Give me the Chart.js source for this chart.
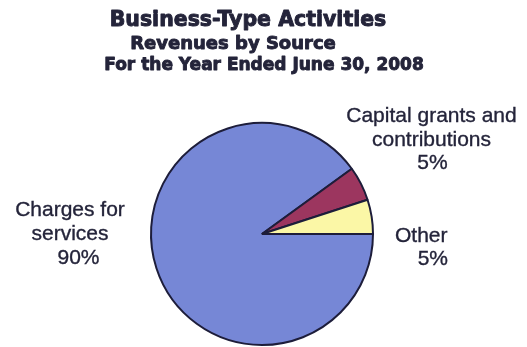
<!DOCTYPE html>
<html>
<head>
<meta charset="utf-8">
<title>Business-Type Activities - Revenues by Source</title>
<script src="https://cdn.jsdelivr.net/npm/chart.js@4/dist/chart.umd.min.js"></script>
<style>
  html, body { margin: 0; padding: 0; background: #ffffff; }
  #wrap { width: 527px; height: 347px; }
</style>
</head>
<body>
<div id="wrap"><canvas id="pie" width="527" height="347"></canvas></div>
<script>
// Revenue sources and their shares (percent of total)
const categories = ["Charges for services", "Capital grants and contributions", "Other"];
const labelLines = [["Charges for", "services"], ["Capital grants and", "contributions"], ["Other"]];
const shares = [90, 5, 5];
const sliceColors = ["#7687d6", "#9c365f", "#fbf7a6"];
const titleLines = ["Business-Type Activities", "Revenues by Source", "For the Year Ended June 30, 2008"];

const textColor = "#24243a";

// Titles drawn centred above the pie (heavy weight)
const titlePlugin = {
  id: "titleBlock",
  afterDraw(chart) {
    const ctx = chart.ctx;
    const specs = [
      { font: "bold 20.5px 'DejaVu Sans'", x: 248, y: 26 },
      { font: "bold 18px 'DejaVu Sans'", x: 233, y: 48.5 },
      { font: "bold 17px 'DejaVu Sans'", x: 264, y: 69.5 }
    ];
    ctx.save();
    ctx.fillStyle = textColor;
    ctx.strokeStyle = textColor;
    ctx.lineWidth = 0.9;
    ctx.lineJoin = "round";
    ctx.textAlign = "center";
    ctx.textBaseline = "alphabetic";
    titleLines.forEach((t, i) => {
      ctx.font = specs[i].font;
      ctx.fillText(t, specs[i].x, specs[i].y);
      ctx.strokeText(t, specs[i].x, specs[i].y);
    });
    ctx.restore();
  }
};

// Category name + percentage placed outside each slice, relative to the pie centre
const sliceLabelPlugin = {
  id: "sliceLabels",
  afterDraw(chart) {
    const ctx = chart.ctx;
    const meta = chart.getDatasetMeta(0);
    const total = shares.reduce((a, b) => a + b, 0);
    const layout = [
      { align: "center", nameDx: -192, pctDx: -183.5, dy: [-18, 6, 30] },
      { align: "center", nameDx: 169.5, pctDx: 170.5, dy: [-112, -88.5, -65] },
      { align: "right", nameDx: 185.5, pctDx: 186, dy: [7.7, 31] }
    ];
    ctx.save();
    ctx.fillStyle = textColor;
    ctx.strokeStyle = textColor;
    ctx.lineWidth = 0.35;
    ctx.font = "21px 'Liberation Sans', Arial, sans-serif";
    ctx.textBaseline = "alphabetic";
    const put = (t, x, y) => { ctx.fillText(t, x, y); ctx.strokeText(t, x, y); };
    meta.data.forEach((arc, i) => {
      const L = layout[i];
      const cx = arc.x, cy = arc.y;
      ctx.textAlign = L.align;
      labelLines[i].forEach((line, j) => {
        put(line, cx + L.nameDx, cy + L.dy[j]);
      });
      const pct = Math.round(shares[i] / total * 100) + "%";
      put(pct, cx + L.pctDx, cy + L.dy[labelLines[i].length]);
    });
    ctx.restore();
  }
};

new Chart(document.getElementById("pie"), {
  type: "pie",
  data: {
    labels: categories,
    datasets: [{
      data: shares,
      backgroundColor: sliceColors,
      borderColor: "#1d1d3a",
      borderWidth: 2
    }]
  },
  options: {
    responsive: false,
    animation: false,
    rotation: 90,
    radius: 111,
    layout: { padding: { left: 150, right: 153, top: 122, bottom: 1 } },
    plugins: {
      legend: { display: false },
      tooltip: { enabled: false },
      title: { display: false }
    }
  },
  plugins: [titlePlugin, sliceLabelPlugin]
});
</script>
</body>
</html>
